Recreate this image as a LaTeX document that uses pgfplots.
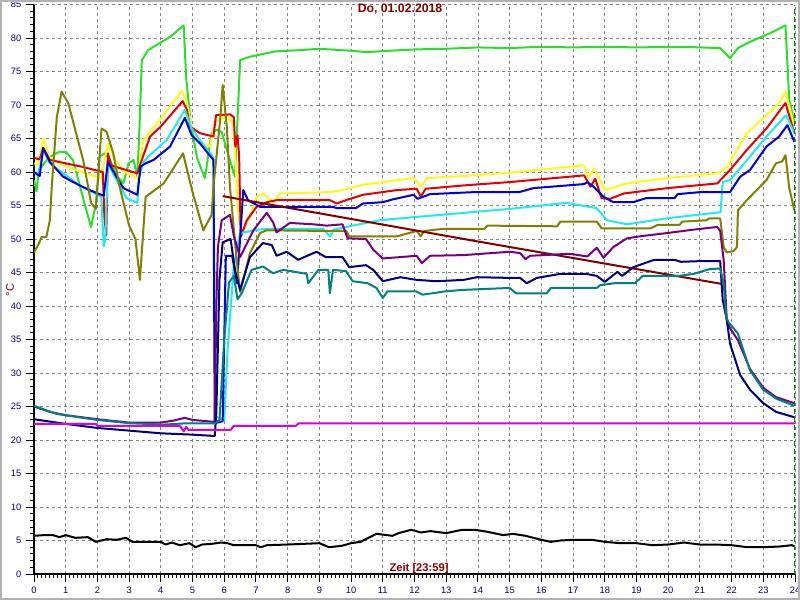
\documentclass[border=0pt]{standalone}
\usepackage{fontspec}
\setmainfont{Liberation Sans}
\usepackage{pgfplots}
\pgfplotsset{compat=1.18}

\definecolor{cGreen}{RGB}{40,224,40}
\definecolor{cYellow}{RGB}{255,250,20}
\definecolor{cRed}{RGB}{232,0,0}
\definecolor{cCyan}{RGB}{30,235,240}
\definecolor{cBlue}{RGB}{0,0,215}
\definecolor{cOlive}{RGB}{128,128,0}
\definecolor{cMaroon}{RGB}{128,0,0}
\definecolor{cPurple}{RGB}{120,0,128}
\definecolor{cNavy}{RGB}{0,0,120}
\definecolor{cTeal}{RGB}{0,128,128}
\definecolor{cMagenta}{RGB}{220,0,220}
\definecolor{tickblue}{RGB}{0,0,110}
\definecolor{titlered}{RGB}{128,0,0}
\definecolor{edgegreen}{RGB}{0,120,0}

\begin{document}
\begin{tikzpicture}
\begin{axis}[
    anchor=south west, at={(0,0)},
    scale only axis,
    width=570.75pt, height=427.1pt,
    xmin=0, xmax=24, ymin=0, ymax=85,
    xtick={0,1,...,24}, ytick={0,5,...,85},
    minor x tick num=7, minor y tick num=4,
    axis x line=bottom, axis y line=left,
    axis line style={-, black, line width=0.8pt},
    tick align=outside,
    major tick length=6pt, minor tick length=3pt,
    tick style={black, line width=0.75pt},
    grid=major,
    major grid style={gray, line width=0.6pt, dash pattern=on 2.25pt off 2.25pt},
    tick label style={font=\fontsize{7}{8}\selectfont, text=tickblue},
    /pgf/number format/assume math mode=true,
    title={\textbf{Do, 01.02.2018}},
    title style={at={(axis description cs:0.481,0.978)}, anchor=center,
                 font=\fontsize{9.2}{11}\selectfont, text=titlered},
    xlabel={\textbf{Zeit [23:59]}},
    xlabel style={at={(axis description cs:0.506,0.004)}, anchor=base,
                  font=\fontsize{8.4}{10}\selectfont, text=titlered},
    ylabel={°C},
    ylabel style={at={(axis description cs:-0.0315,0.499)}, anchor=center, rotate=0,
                  font=\fontsize{8.4}{10}\selectfont, text=titlered},
    every axis plot/.append style={line width=1.5pt, line join=round, mark=none},
]
% Kessel / Vorlauf (green)
\addplot[cGreen] coordinates {
(0,58.8)(0.08,57.1)(0.15,60.3)(0.5,62.3)(0.8,63.0)(1.0,63.0)(1.23,61.8)(1.65,54.3)
(1.8,51.8)(1.96,55.4)(2.07,62.3)(2.23,62.8)(2.4,61.8)(2.6,59.5)(2.82,58.3)(2.98,61.3)
(3.14,61.8)(3.26,59.3)(3.33,67.0)(3.4,76.7)(3.6,78.2)(4.3,80.2)(4.72,81.9)(4.8,74.0)
(4.95,67.0)(5.15,62.0)(5.39,59.1)(5.6,65.8)(5.76,66.3)(5.92,66.0)(6.1,63.0)(6.34,59.3)
(6.42,68.0)(6.5,76.7)(6.8,77.2)(7.2,77.6)(7.6,78.0)(8.4,78.2)(9.0,78.4)(10.0,78.1)
(10.5,77.9)(11.2,78.1)(12.0,78.3)(13.0,78.4)(14.0,78.6)(15.0,78.5)(16.0,78.7)(17.0,78.6)
(18.0,78.7)(19.0,78.6)(20.38,78.7)(21.64,78.5)(21.95,77.0)(22.2,78.5)(22.48,79.2)
(22.9,80.1)(23.2,80.7)(23.5,81.4)(23.7,81.9)(23.82,70.7)(23.98,67.5)
};
\addplot[cYellow] coordinates {
(0,61.3)(0.13,61.1)(0.29,65.0)(0.5,62.1)(0.92,61.0)(1.5,60.0)(2.12,59.1)(2.33,64.3)
(2.5,62.3)(2.8,60.2)(3.26,59.0)(3.45,64.8)(3.97,67.8)(4.66,72.1)(4.82,70.5)(4.97,66.7)
(5.23,64.5)(5.55,63.8)(5.71,67.5)(6.08,68.3)(6.23,67.6)(6.3,66.5)(6.44,53.9)(6.55,50.9)
(6.81,53.3)(7.02,56.3)(7.23,56.8)(7.55,55.4)(7.76,56.8)(9.33,57.0)(9.73,57.3)(10.37,58.1)
(11.0,58.5)(11.97,59.1)(12.2,57.8)(12.4,59.1)(13.55,59.4)(15.0,59.9)(17.35,61.0)(17.5,59.1)
(17.65,60.5)(17.8,59.4)(18.0,57.3)(18.7,58.3)(19.98,59.1)(21.55,59.8)(21.87,60.8)
(22.17,63.3)(22.48,65.8)(23.1,68.5)(23.5,70.3)(23.7,72.0)(23.98,66.8)
};
\addplot[cRed] coordinates {
(0,62.1)(0.18,61.9)(0.29,63.6)(0.5,61.8)(1.0,61.3)(1.5,60.8)(2.17,60.0)(2.22,53.3)
(2.28,50.6)(2.31,58.0)(2.33,62.8)(2.43,61.0)(2.7,60.6)(3.26,59.8)(3.36,61.3)(3.4,61.8)
(3.66,65.3)(4.0,66.8)(4.69,70.6)(4.82,69.3)(4.92,66.8)(5.23,65.8)(5.66,65.3)(5.74,68.5)
(6.19,68.6)(6.3,68.2)(6.35,63.8)(6.42,65.5)(6.47,62.3)(6.52,50.3)(6.71,52.8)(7.02,54.8)
(7.34,55.5)(7.65,55.8)(9.33,55.8)(9.55,55.3)(9.84,55.8)(10.37,56.6)(11.44,57.3)
(12.07,57.5)(12.2,56.3)(12.35,57.5)(13.55,58.0)(15.0,58.5)(17.35,59.5)(17.55,57.8)
(17.7,59.0)(17.9,56.1)(18.17,56.0)(18.6,56.8)(19.98,57.6)(21.55,58.3)(21.95,60.3)
(22.48,63.3)(23.1,66.5)(23.7,70.3)(23.98,65.8)
};
\addplot[cCyan] coordinates {
(0,60.0)(0.13,59.4)(0.29,63.3)(0.5,61.3)(0.92,59.8)(1.44,58.0)(2.12,56.3)(2.2,48.9)
(2.25,50.0)(2.33,61.3)(2.6,58.8)(2.92,56.1)(3.26,55.4)(3.3,58.8)(3.45,61.5)(3.6,62.3)
(4.19,64.8)(4.76,69.3)(4.97,66.5)(5.23,64.8)(5.66,62.1)(5.72,23.5)(6.0,23.0)(6.1,33.0)
(6.3,46.0)(6.5,50.9)(7.22,51.5)(9.12,51.5)(9.33,50.4)(9.45,51.4)(9.94,51.9)(10.9,52.8)
(12.07,53.3)(13.55,53.9)(15.0,54.5)(16.8,55.4)(17.75,54.6)(18.07,52.8)(18.7,52.2)
(19.98,53.1)(21.65,54.0)(21.72,58.5)(21.95,58.8)(22.58,62.3)(23.1,65.3)(23.72,68.5)
(23.98,65.8)
};
\addplot[cBlue] coordinates {
(0,60.0)(0.18,59.4)(0.29,63.6)(0.5,61.5)(0.92,59.3)(1.44,58.0)(1.76,57.3)(2.12,56.6)
(2.2,56.5)(2.33,61.5)(2.6,59.3)(2.82,57.6)(3.26,56.6)(3.36,60.8)(3.52,61.3)(3.77,61.8)
(4.29,63.8)(4.76,68.1)(4.97,65.5)(5.23,64.3)(5.66,61.8)(5.7,22.5)(5.95,22.8)(6.05,47.5)
(6.25,47.5)(6.4,43.4)(6.5,50.0)(6.6,57.3)(6.75,55.8)(7.13,54.8)(9.43,54.8)(9.55,54.6)
(10.15,54.6)(10.37,55.3)(11.0,55.5)(11.3,55.9)(11.97,56.6)(12.1,56.0)(12.49,56.7)
(13.87,57.0)(15.3,57.0)(15.75,57.6)(17.35,58.2)(17.45,58.5)(17.65,57.8)(17.96,56.3)
(18.27,55.5)(18.9,55.5)(19.3,56.1)(20.2,56.1)(20.3,56.7)(21.0,57.0)(21.95,57.0)
(22.27,59.3)(22.58,60.3)(23.1,63.8)(23.5,65.3)(23.76,67.0)(23.98,64.5)
};
\addplot[cOlive] coordinates {
(0,48.0)(0.13,49.1)(0.24,50.3)(0.39,50.3)(0.5,52.8)(0.56,57.8)(0.72,68.2)(0.87,72.0)
(1.08,70.3)(1.55,61.8)(1.8,55.4)(1.95,54.5)(2.13,66.5)(2.29,66.0)(2.5,62.8)(2.7,57.8)
(3.0,52.0)(3.2,50.0)(3.34,43.9)(3.52,56.3)(4.09,58.3)(4.7,62.8)(5.0,57.0)(5.34,51.3)
(5.6,53.6)(5.66,57.8)(5.87,67.8)(5.95,73.0)(6.08,66.8)(6.18,57.8)(6.39,46.9)(6.5,42.1)
(6.81,47.9)(7.13,50.9)(7.34,51.3)(9.33,51.2)(9.85,51.2)(9.94,50.4)(11.44,50.4)
(12.07,51.2)(12.2,50.4)(12.3,51.2)(12.87,51.5)(14.2,51.5)(14.3,52.0)(16.5,51.9)
(16.6,52.6)(17.75,52.6)(17.9,51.6)(19.45,51.6)(19.66,52.1)(20.35,52.1)(20.45,52.6)
(21.2,52.8)(21.3,53.1)(21.64,53.1)(21.75,48.8)(21.85,48.0)(22.06,48.2)(22.17,48.8)
(22.2,54.3)(22.48,55.8)(23.1,58.8)(23.4,61.3)(23.6,61.6)(23.7,62.5)(23.82,57.6)(23.98,54.3)
};
\addplot[cMaroon] coordinates {
(5.95,56.4)(13.8,49.8)(21.69,43.3)
};
\addplot[cPurple] coordinates {
(0,25.0)(0.5,24.2)(1,23.7)(2,23.1)(3,22.6)(4,22.6)(4.4,22.9)(4.75,23.3)(5.0,23.0)
(5.7,22.7)(5.75,40.0)(5.8,48.8)(5.92,52.8)(6.18,53.6)(6.3,50.5)(6.5,47.3)(6.92,51.3)
(7.34,53.9)(7.54,52.5)(7.65,51.0)(8.07,52.4)(8.8,52.2)(9.23,52.0)(9.73,52.2)(9.89,50.1)
(10.47,50.0)(10.7,48.4)(11.0,47.1)(12.07,47.5)(12.23,46.4)(12.49,47.5)(13.55,47.6)
(15.0,48.1)(15.33,47.9)(15.5,47.0)(15.65,47.5)(16.9,47.8)(17.45,47.4)(17.75,48.7)
(17.96,47.2)(18.27,48.8)(18.7,50.1)(19.1,50.4)(19.98,50.9)(20.8,51.4)(21.55,51.8)
(21.64,51.2)(21.75,46.9)(21.85,37.9)(21.95,36.7)(22.2,34.9)(22.58,30.6)(23.0,27.8)
(23.4,26.4)(23.98,25.5)
};
\addplot[cNavy] coordinates {
(0,23.1)(1,22.4)(2,21.8)(3,21.4)(4,21.0)(5,20.8)(5.7,20.6)(5.75,24.0)(5.85,44.0)
(5.95,49.5)(6.2,50.0)(6.35,45.0)(6.5,42.4)(6.81,47.3)(7.22,49.4)(7.5,49.1)(7.65,47.5)
(7.97,48.1)(8.33,46.9)(8.91,48.1)(9.2,47.3)(9.73,47.3)(9.94,45.8)(10.47,46.1)(10.7,45.4)
(11.0,43.7)(11.55,44.3)(12.07,43.9)(12.7,43.7)(13.55,43.9)(13.97,44.3)(15.0,44.2)
(15.33,44.2)(15.54,43.4)(15.86,44.2)(16.6,44.8)(17.4,44.8)(17.75,44.5)(18.0,43.6)
(18.4,45.1)(18.55,44.5)(18.9,45.8)(19.56,46.9)(20.2,46.9)(20.4,46.6)(21.0,46.7)
(21.64,46.7)(21.72,40.9)(21.85,37.9)(21.95,34.4)(22.27,29.7)(22.58,27.5)(23.0,25.5)
(23.4,24.2)(23.98,23.4)
};
\addplot[cTeal] coordinates {
(0,25.1)(0.71,23.9)(1.98,23.0)(3.04,22.5)(4.09,22.3)(4.82,22.5)(5.71,22.5)(5.85,23.0)
(6.0,35.0)(6.15,43.5)(6.3,44.5)(6.42,41.0)(6.55,41.9)(6.86,45.4)(7.22,45.9)(7.54,44.9)
(7.86,45.4)(8.6,44.8)(8.65,43.4)(8.97,45.4)(9.28,45.4)(9.33,41.9)(9.43,45.4)(9.84,45.2)
(10.05,43.7)(10.52,43.4)(10.8,42.7)(11.0,41.2)(11.15,42.2)(12.05,42.2)(12.25,41.7)
(12.99,42.2)(13.5,42.4)(15.0,42.7)(15.2,41.9)(16.17,41.9)(16.3,42.7)(17.75,42.7)
(17.85,43.1)(18.3,43.4)(18.95,43.4)(19.2,44.5)(20.35,44.5)(20.8,44.8)(21.3,45.5)
(21.64,45.6)(21.75,43.4)(21.83,38.4)(21.9,37.6)(22.2,35.9)(22.58,30.4)(23.0,27.5)
(23.4,26.2)(23.98,25.1)
};
\addplot[cMagenta] coordinates {
(0,22.4)(1.95,22.4)(2.0,22.1)(4.6,22.1)(4.72,21.3)(4.8,22.0)(4.87,21.5)(6.2,21.5)
(6.3,22.1)(8.25,22.1)(8.35,22.5)(24,22.5)
};
\addplot[black] coordinates {
(0,5.7)(0.3,5.8)(0.6,5.8)(0.8,5.5)(1.0,5.8)(1.3,5.4)(1.7,5.5)(1.95,4.8)(2.3,5.2)
(2.6,5.1)(2.9,5.4)(3.1,4.8)(4.0,4.8)(4.15,4.4)(4.35,4.7)(4.6,4.3)(4.9,4.6)(5.1,4.0)
(5.3,4.4)(5.6,4.5)(5.9,4.7)(6.1,4.6)(6.3,4.3)(7.0,4.3)(7.15,4.0)(7.35,4.3)(8.0,4.4)
(8.5,4.5)(9.0,4.6)(9.3,4.0)(9.7,4.2)(10.0,4.6)(10.3,4.8)(10.8,6.0)(11.3,5.7)(11.5,6.1)
(11.9,6.6)(12.2,6.2)(12.5,6.4)(13.0,6.1)(13.5,6.6)(13.9,6.6)(14.3,6.3)(14.8,5.8)
(15.1,6.0)(15.5,5.7)(16.0,5.1)(16.3,4.8)(16.6,5.0)(17.0,5.1)(17.6,5.1)(18.0,4.8)
(18.5,4.6)(19.0,4.6)(19.5,4.3)(20.0,4.4)(20.5,4.7)(21.0,4.4)(21.5,4.4)(22.0,4.3)
(22.5,4.0)(23.0,4.0)(23.5,4.1)(23.9,4.3)(24,4.1)
};
% end-of-day marker
\addplot[edgegreen, line width=0.8pt, dash pattern=on 4pt off 2pt] coordinates {(24,0)(24,85)};
\end{axis}
\pgfresetboundingbox
\path (-25.5pt,-19.5pt) rectangle (574.5pt,430.5pt);
\draw[gray!60, line width=1.5pt] (-24.75pt,-18.75pt) rectangle (573.75pt,429.75pt);
\end{tikzpicture}
\end{document}
